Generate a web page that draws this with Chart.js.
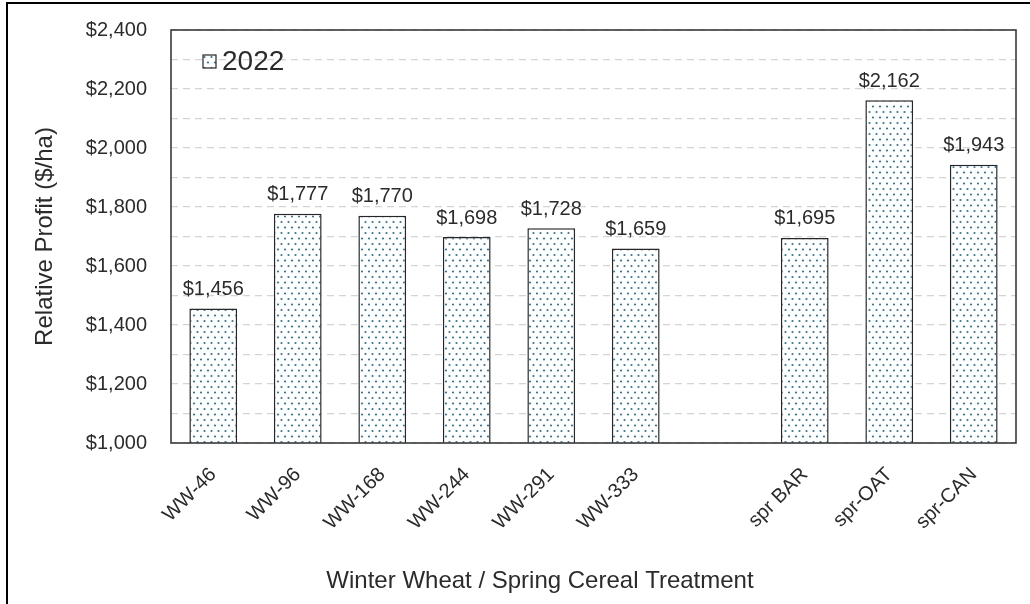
<!DOCTYPE html>
<html>
<head>
<meta charset="utf-8">
<script src="https://cdn.jsdelivr.net/npm/chart.js@4/dist/chart.umd.min.js"></script>
<style>
    html, body { margin: 0; padding: 0; background: #fff; }
    .wrap { position: relative; width: 1030px; height: 604px; overflow: hidden; }
    .frame {
        position: absolute; left: 6px; top: 2px; right: -4px; bottom: -4px;
        border-top: 2px solid #000; border-left: 2px solid #000;
        pointer-events: none;
    }
</style>
</head>
<body>
<div class="wrap">
    <canvas id="chart" width="1030" height="604"></canvas>
    <div class="frame"></div>
</div>

<script>
    // data ("" = empty gap slot between the two groups)
    const categories = ["WW-46", "WW-96", "WW-168", "WW-244", "WW-291", "WW-333", "", "spr BAR", "spr-OAT", "spr-CAN"]
    const profit2022 = [1456, 1777, 1770, 1698, 1728, 1659, null, 1695, 2162, 1943]
    const seriesName = "2022"
    const yMin = 1000
    const yMax = 2400
    const yStep = 100
    const yLabelEvery = 200
    const yTitle = "Relative Profit ($/ha)"
    const xTitle = "Winter Wheat / Spring Cereal Treatment"

    const FONT = "'Liberation Sans', Arial, sans-serif"
    const INK = "#2b2b2b"

    const money = (v) => "$" + Math.round(v).toLocaleString("en-US")

    // dotted fill like the office pattern
    const makeDots = () => {
        const c = document.createElement("canvas")
        c.width = 7
        c.height = 11
        const g = c.getContext("2d")
        g.fillStyle = "#ffffff"
        g.fillRect(0, 0, c.width, c.height)
        g.fillStyle = "#2a78a0"
        g.beginPath(); g.arc(1.5, 2, 1.1, 0, Math.PI * 2); g.fill()
        g.beginPath(); g.arc(5, 7.5, 1.1, 0, Math.PI * 2); g.fill()
        return g.createPattern(c, "repeat")
    }
    const dots = makeDots()

    const plotFrame = {
        id: "plotFrame",
        afterDraw(chart) {
            const {ctx, chartArea: a} = chart
            ctx.save()
            ctx.strokeStyle = "#3a3a3a"
            ctx.lineWidth = 1.6
            ctx.strokeRect(a.left, a.top, a.right - a.left, a.bottom - a.top)
            ctx.restore()
        }
    }

    const barLabels = {
        id: "barLabels",
        afterDatasetsDraw(chart) {
            const {ctx} = chart
            const meta = chart.getDatasetMeta(0)
            ctx.save()
            ctx.font = "20px " + FONT
            ctx.fillStyle = INK
            ctx.textAlign = "center"
            ctx.textBaseline = "bottom"
            meta.data.forEach((bar, i) => {
                const v = chart.data.datasets[0].data[i]
                if (v == null) return
                ctx.fillText(money(v), bar.x, bar.y - 9)
            })
            ctx.restore()
        }
    }

    const insideLegend = {
        id: "insideLegend",
        afterDraw(chart) {
            const {ctx, chartArea: a} = chart
            const ds = chart.data.datasets[0]
            const x = a.left + 32
            const y = a.top + 25
            ctx.save()
            ctx.fillStyle = ds.backgroundColor
            ctx.fillRect(x, y, 13, 13)
            ctx.strokeStyle = ds.borderColor
            ctx.lineWidth = 1.2
            ctx.strokeRect(x, y, 13, 13)
            ctx.font = "28px " + FONT
            ctx.fillStyle = INK
            ctx.textBaseline = "middle"
            ctx.fillText(ds.label, x + 19, y + 7.5)
            ctx.restore()
        }
    }

    const bottomTitle = {
        id: "bottomTitle",
        afterDraw(chart) {
            const {ctx} = chart
            ctx.save()
            ctx.font = "24px " + FONT
            ctx.fillStyle = INK
            ctx.textAlign = "center"
            ctx.textBaseline = "middle"
            ctx.fillText(xTitle, chart.width / 2 + 25, chart.height - 23)
            ctx.restore()
        }
    }

    const ctx = document.getElementById("chart").getContext("2d")
    new Chart(ctx, {
        type: "bar",
        data: {
            labels: categories,
            datasets: [{
                label: seriesName,
                data: profit2022,
                backgroundColor: dots,
                borderColor: "#262626",
                borderWidth: 1.5,
                borderSkipped: false,
                categoryPercentage: 1,
                barPercentage: 0.565
            }]
        },
        options: {
            responsive: false,
            animation: false,
            devicePixelRatio: 1,
            layout: {padding: {left: 27, top: 30, right: 14, bottom: 0}},
            plugins: {
                legend: {display: false},
                tooltip: {enabled: false}
            },
            scales: {
                x: {
                    grid: {display: false, drawTicks: false},
                    border: {display: false},
                    ticks: {
                        autoSkip: false,
                        minRotation: 45,
                        maxRotation: 45,
                        padding: 20,
                        color: INK,
                        font: {family: FONT, size: 20}
                    },
                    afterFit: (scale) => { scale.height = 161 }
                },
                y: {
                    min: yMin,
                    max: yMax,
                    grid: {
                        color: "#d4d4d4",
                        lineWidth: 1.3,
                        drawTicks: true,
                        tickLength: 24,
                        tickColor: "rgba(0,0,0,0)"
                    },
                    border: {display: false, dash: [7, 5]},
                    ticks: {
                        stepSize: yStep,
                        padding: 0,
                        color: INK,
                        font: {family: FONT, size: 20},
                        callback: (v) => (v % yLabelEvery === 0 ? money(v) : "")
                    },
                    title: {
                        display: true,
                        text: yTitle,
                        color: INK,
                        font: {family: FONT, size: 24}
                    },
                    afterFit: (scale) => { scale.width = 144 }
                }
            }
        },
        plugins: [barLabels, plotFrame, insideLegend, bottomTitle]
    })
</script>
</body>
</html>
